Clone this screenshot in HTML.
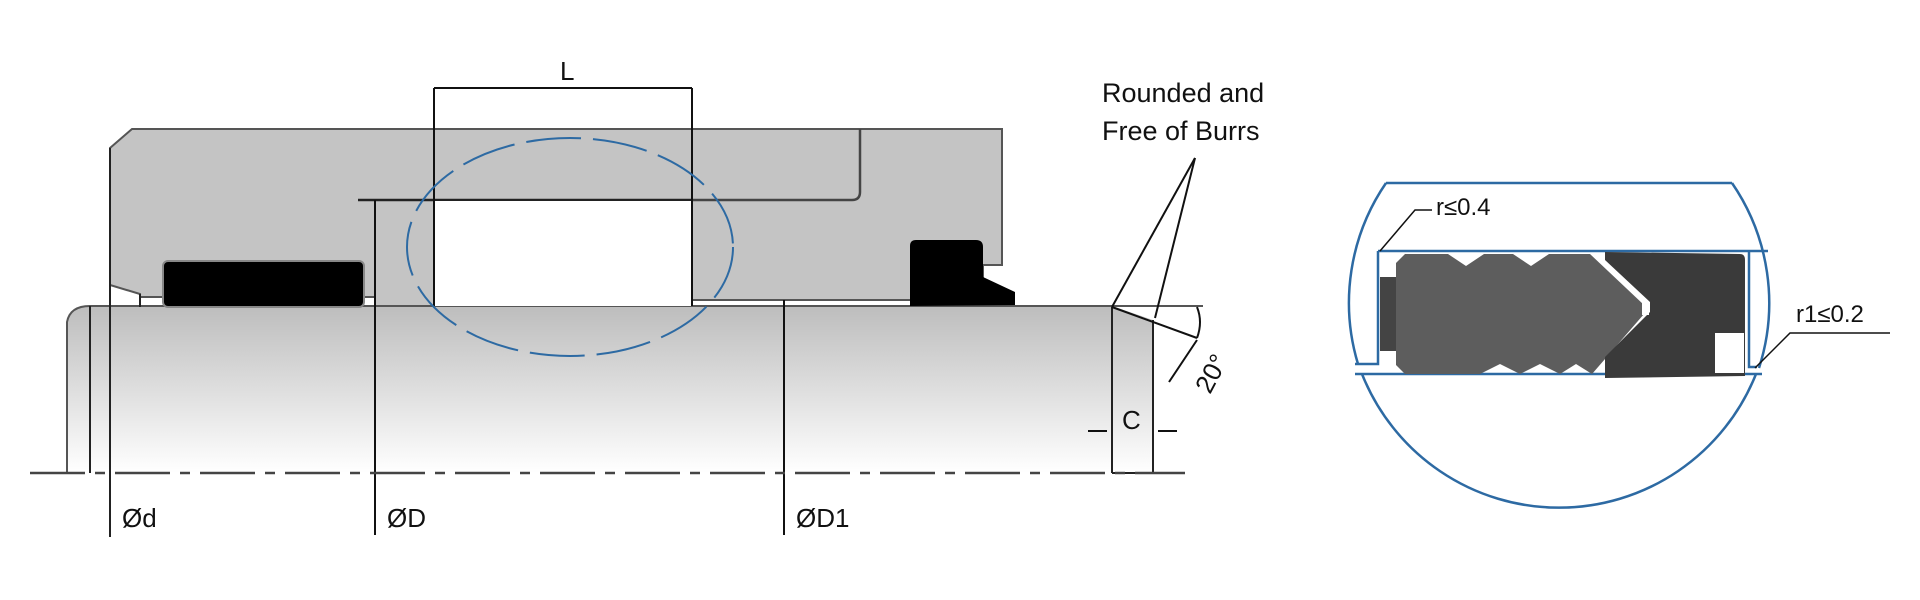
<!DOCTYPE html>
<html><head><meta charset="utf-8"><style>
html,body{margin:0;padding:0;background:#fff;}
svg{display:block;}
text{font-family:"Liberation Sans",sans-serif;fill:#111;}
</style></head><body>
<svg width="1920" height="600" viewBox="0 0 1920 600" xmlns="http://www.w3.org/2000/svg">
<defs>
<linearGradient id="rod" x1="0" y1="0" x2="0" y2="1">
<stop offset="0" stop-color="#bdbdbd"/><stop offset="1" stop-color="#ffffff"/>
</linearGradient>
</defs>
<!-- rod -->
<path d="M67,473 L67,322 Q70,306 90,306 L1112,306 L1153,320 L1153,473 Z" fill="url(#rod)"/>
<path d="M67,473 L67,322 Q70,306 90,306 L1203,306" fill="none" stroke="#555" stroke-width="2"/>
<line x1="90" y1="306" x2="90" y2="473" stroke="#222" stroke-width="2"/>
<line x1="1112" y1="307" x2="1112" y2="473" stroke="#222" stroke-width="2"/>
<line x1="1153" y1="320" x2="1153" y2="473" stroke="#222" stroke-width="2"/>
<line x1="1112" y1="473" x2="1153" y2="473" stroke="#222" stroke-width="2"/>
<!-- housing -->
<path d="M110,148 L132,129 L1002,129 L1002,265 L983,265 L983,300 L692,300 L692,200 L434,200 L434,306 L375,306 L375,297 L140,297 L140,294 L110,285 Z" fill="#c4c4c4" stroke="#555" stroke-width="2"/>
<path d="M860,129 L860,192 Q860,200 852,200 L692,200" fill="none" stroke="#444" stroke-width="2.5"/>
<line x1="358" y1="200" x2="692" y2="200" stroke="#222" stroke-width="2.5"/>
<line x1="140" y1="294" x2="140" y2="307" stroke="#222" stroke-width="2"/>
<line x1="110" y1="148" x2="110" y2="537" stroke="#222" stroke-width="2"/>
<!-- groove white -->
<rect x="434" y="201" width="258" height="105" fill="#fff"/>
<!-- seals -->
<rect x="163" y="261" width="201" height="46" rx="5" fill="#000" stroke="#888" stroke-width="2"/>
<path d="M910,306 L910,246 Q910,240 916,240 L976,240 Q983,240 983,247 L983,277 L1015,292 L1015,305 L910,306 Z" fill="#000"/>
<!-- dims -->
<line x1="434" y1="88" x2="434" y2="306" stroke="#111" stroke-width="2"/>
<line x1="692" y1="88" x2="692" y2="306" stroke="#111" stroke-width="2"/>
<line x1="434" y1="88" x2="692" y2="88" stroke="#111" stroke-width="2"/>
<text x="560" y="80" font-size="26">L</text>
<line x1="375" y1="200" x2="375" y2="535" stroke="#111" stroke-width="2"/>
<line x1="784" y1="300" x2="784" y2="535" stroke="#111" stroke-width="2"/>
<text x="122" y="527" font-size="26">Ød</text>
<text x="387" y="527" font-size="26">ØD</text>
<text x="796" y="527" font-size="26">ØD1</text>
<line x1="30" y1="473" x2="1185" y2="473" stroke="#444" stroke-width="2.5" stroke-dasharray="55,10,10,10"/>
<ellipse cx="570" cy="247" rx="163" ry="109" fill="none" stroke="#2d6aa3" stroke-width="2" stroke-dasharray="55,12"/>
<!-- chamfer annotations -->
<text x="1102" y="102" font-size="27">Rounded and</text>
<text x="1102" y="140" font-size="27">Free of Burrs</text>
<line x1="1195" y1="158" x2="1112" y2="307" stroke="#111" stroke-width="2"/>
<line x1="1195" y1="158" x2="1155" y2="318" stroke="#111" stroke-width="2"/>
<line x1="1112" y1="307" x2="1197" y2="338" stroke="#111" stroke-width="2"/>
<path d="M1197,307 Q1203,322 1197,338" fill="none" stroke="#111" stroke-width="2"/>
<line x1="1197" y1="340" x2="1169" y2="382" stroke="#111" stroke-width="2"/>
<text x="0" y="0" font-size="26" transform="translate(1210,395) rotate(-62)">20°</text>
<text x="1122" y="429" font-size="26">C</text>
<line x1="1088" y1="431" x2="1107" y2="431" stroke="#111" stroke-width="2"/>
<line x1="1158" y1="431" x2="1177" y2="431" stroke="#111" stroke-width="2"/>
<!-- detail circle -->
<g fill="none" stroke="#2d6aa3" stroke-width="2.5">
<path d="M1386,183 L1732,183"/>
<path d="M1386,183 A212,212 0 0 0 1358,364"/>
<path d="M1732,183 A212,212 0 0 1 1759,368"/>
<path d="M1362,374 A212,212 0 0 0 1756,374"/>
<path d="M1378,251 L1768,251"/>
<path d="M1378,251 L1378,364 L1355,364"/>
<path d="M1355,374 L1762,374"/>
<path d="M1749,251 L1749,367 L1757,367"/>
</g>
<rect x="1380" y="277" width="16" height="74" fill="#444"/>
<path d="M1396,263 L1405,254 L1448,254 L1466,266 L1484,254 L1513,254 L1531,266 L1549,254 L1590,254 L1644,305 L1644,314 L1592,374 L1576,364 L1560,374 L1540,364 L1520,374 L1500,364 L1480,374 L1405,374 L1396,365 Z" fill="#5d5d5d"/>
<path d="M1605,252 L1740,254 Q1745,254 1745,260 L1745,376 L1605,378 L1605,357 L1650,312 L1650,302 L1605,260 Z" fill="#3a3a3a"/>
<rect x="1715" y="333" width="29" height="40" fill="#fff"/>
<rect x="1642" y="303" width="7" height="12" fill="#fff"/>
<text x="1436" y="215" font-size="24">r≤0.4</text>
<polyline points="1380,251 1415,210 1432,210" fill="none" stroke="#111" stroke-width="1.5"/>
<text x="1796" y="322" font-size="24">r1≤0.2</text>
<polyline points="1755,368 1790,333 1890,333" fill="none" stroke="#111" stroke-width="1.5"/>
</svg>
</body></html>
